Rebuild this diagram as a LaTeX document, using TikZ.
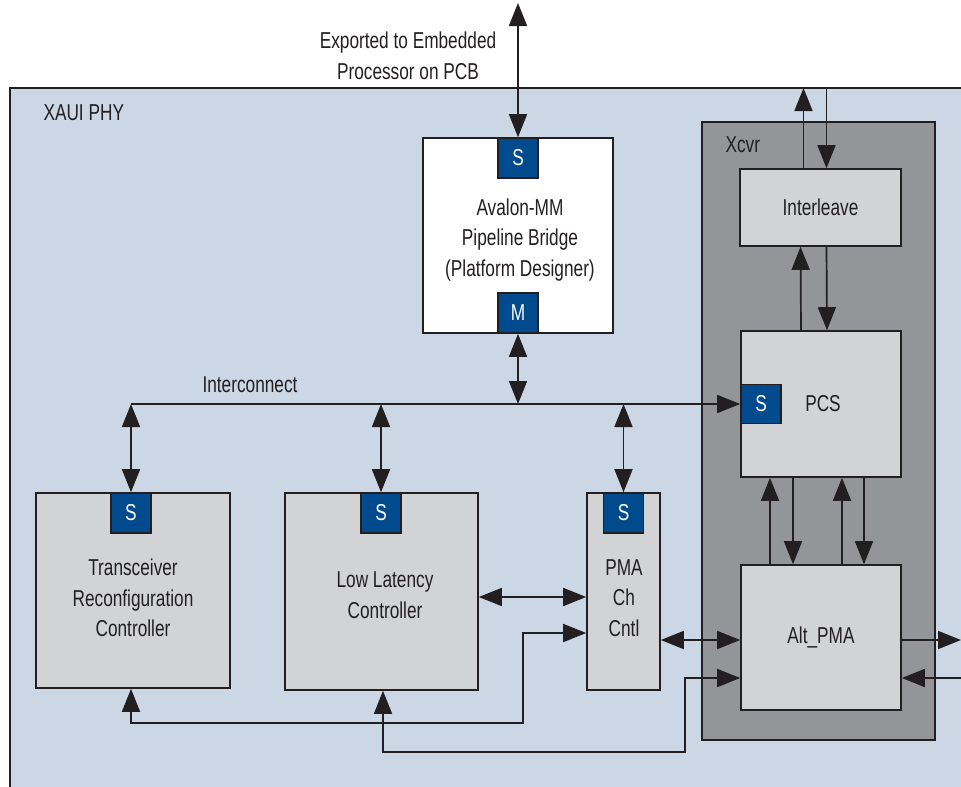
\documentclass[tikz,border=0pt]{standalone}
\usepackage{fontspec}
\setmainfont{Liberation Sans}[FakeStretch=0.75]
\usetikzlibrary{arrows.meta}
\definecolor{phyblue}{HTML}{CBD7E5}
\definecolor{xcvrgrey}{HTML}{939598}
\definecolor{blockgrey}{HTML}{D1D3D4}
\definecolor{portblue}{HTML}{004A8D}
\definecolor{ink}{HTML}{231F20}
\tikzset{
  every node/.style={font=\fontsize{23}{30.5}\selectfont, text=ink, align=center},
  block/.style={draw=ink, line width=1.6pt, fill=blockgrey, inner sep=0pt},
  port/.style={draw=ink, line width=1.6pt, fill=portblue, text=white, minimum width=40pt, minimum height=40pt, inner sep=0pt},
  link/.style={draw=ink, line width=1.7pt, -{Triangle[length=23pt,width=18pt]}},
  bilink/.style={draw=ink, line width=1.7pt, {Triangle[length=23pt,width=18pt]}-{Triangle[length=23pt,width=18pt]}},
}
\begin{document}
\begin{tikzpicture}[x=1pt,y=-1pt]
\useasboundingbox (0,0) rectangle (961,787);
% containers
\draw[ink, line width=1.6pt, fill=phyblue] (10,88) rectangle (990,810);
\node[anchor=west] (phy-lbl) at (40,113) {XAUI PHY};
\node[block, fill=xcvrgrey, minimum width=233pt, minimum height=618pt] (xcvr) at (818.5,431) {};
\node[anchor=west] (xcvr-lbl) at (722,145) {Xcvr};
\node (pcb-lbl) at (408,56) {Exported to Embedded\\Processor on PCB};
\coordinate (pcb) at (518,3);
\coordinate (top) at (0,88);
\coordinate (bus) at (0,404);

% Avalon bridge
\node[block, fill=white, minimum width=190pt, minimum height=195pt] (avl) at (518,235.5) {};
\node (avl-txt) at (520,240) {Avalon-MM\\Pipeline Bridge\\(Platform Designer)};
\node[port] (avl-s) at (518,158) {S};
\node[port] (avl-m) at (518,313) {M};

% controllers
\node[block, minimum width=194pt, minimum height=195pt] (trx) at (133,590.5) {};
\node (trx-txt) at (133,598) {Transceiver\\Reconfiguration\\Controller};
\node[port] (trx-s) at (131,513) {S};
\node[block, minimum width=193pt, minimum height=197pt] (llc) at (381.5,591.5) {};
\node (llc-txt) at (385,595) {Low Latency\\Controller};
\node[port] (llc-s) at (381,513) {S};
\node[block, minimum width=73pt, minimum height=197pt] (pma) at (623.5,591.5) {};
\node (pma-txt) at (624,598) {PMA\\Ch\\Cntl};
\node[port] (pma-s) at (623.5,513) {S};

% transceiver blocks
\node[block, minimum width=161pt, minimum height=77pt] (ilv) at (820.5,207.5) {Interleave};
\node[block, minimum width=160pt, minimum height=146pt] (pcs) at (821,404) {};
\node (pcs-txt) at (823,404) {PCS};
\node[port, minimum height=39pt] (pcs-s) at (761,404) {S};
\node[block, minimum width=160pt, minimum height=145pt] (apma) at (821,637.5) {Alt\_PMA};

% Avalon-MM interconnect
\draw[bilink] (pcb) -- (avl-s.north);
\draw[link] (trx-s.north |- bus) -- (pcs-s.west);
\draw[bilink] (avl-m.south) -- (avl-m.south |- bus);
\draw[bilink] (trx-s.north |- bus) -- (trx-s.north);
\draw[bilink] (llc-s.north |- bus) -- (llc-s.north);
\draw[bilink] (pma-s.north |- bus) -- (pma-s.north);
\node (bus-lbl) at (250,385) {Interconnect};

% data path
\draw[link] ([xshift=-17pt]ilv.north) -- ([xshift=-17pt]ilv.north |- top);
\draw[link] ([xshift=6pt]ilv.north |- top) -- ([xshift=6pt]ilv.north);
\draw[link] ([xshift=-20pt]pcs.north) -- ([xshift=-20pt]ilv.south);
\draw[link] ([xshift=6pt]ilv.south) -- ([xshift=6pt]pcs.north);
\foreach \dx in {-51,21}
  \draw[link] ([xshift=\dx pt]apma.north) -- ([xshift=\dx pt]pcs.south);
\foreach \dx in {-28,43}
  \draw[link] ([xshift=\dx pt]pcs.south) -- ([xshift=\dx pt]apma.north);
\draw[link] (apma.east |- 0,640) -- (961,640);
\draw[link] (961,678) -- (apma.east |- 0,678);

% control
\draw[bilink] (llc.east |- 0,597) -- (pma.west |- 0,597);
\draw[bilink] (pma.east |- 0,640) -- (apma.west |- 0,640);
\draw[bilink] (trx-s.south |- trx.south) -- (trx-s.south |- 0,723) -- (523,723) -- (523,633) -- (pma.west |- 0,633);
\draw[bilink] ([xshift=1.5pt]llc.south) -- ([xshift=1.5pt]llc.south |- 0,752) -- (685,752) -- (685,678) -- (apma.west |- 0,678);
\end{tikzpicture}
\end{document}
